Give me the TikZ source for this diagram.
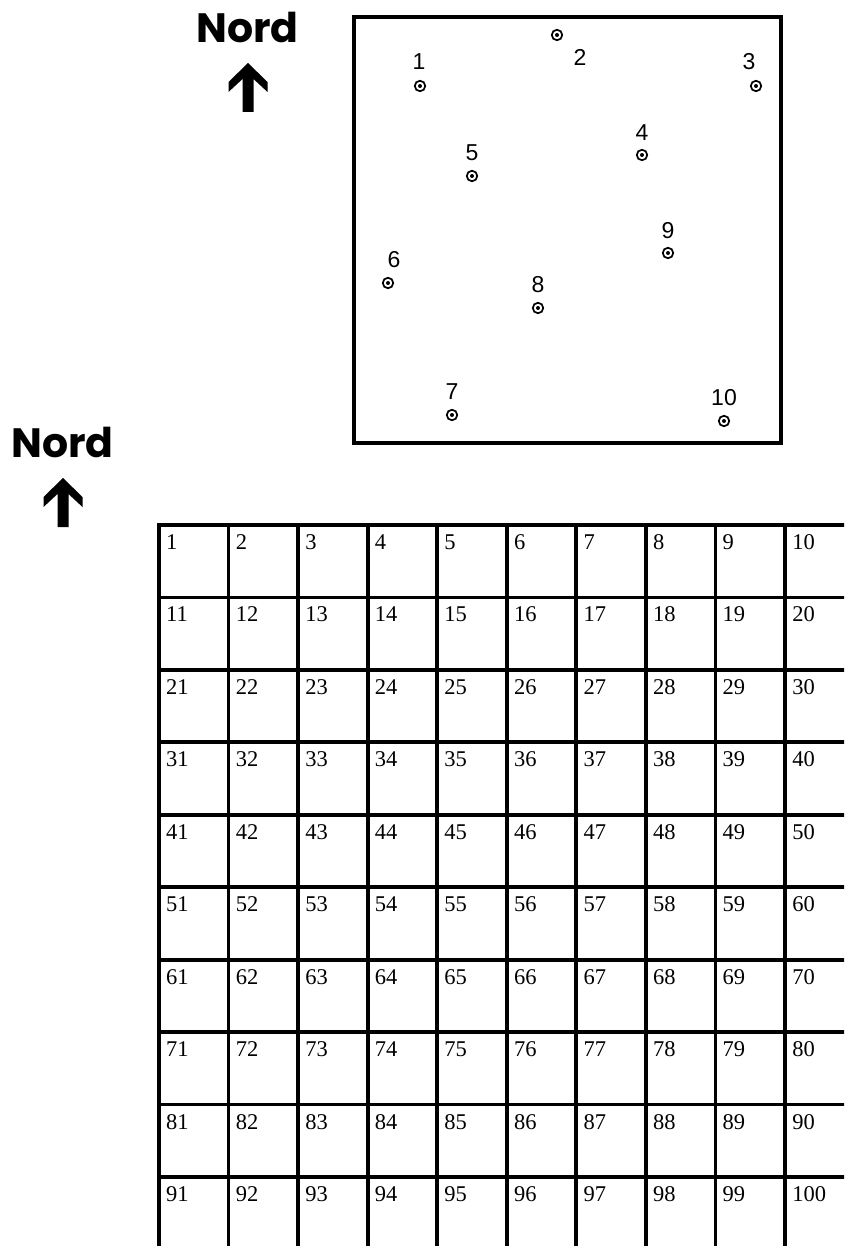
\documentclass[tikz,border=0pt]{standalone}
\usepackage{fontspec}
\setmainfont{Liberation Serif}
\newfontfamily\labfont{Liberation Sans}
\newfontfamily\nordfont{Poppins}
\begin{document}
\begin{tikzpicture}[x=1pt,y=-1pt,
  gridline/.style={line width=3.8pt},
  boxline/.style={line width=4pt},
  station/.style={circle,draw,line width=1.7pt,minimum size=10.5pt,inner sep=0pt},
  stlabel/.style={font=\labfont\fontsize{23}{23}\selectfont,inner sep=0pt,anchor=center},
  cellnum/.style={font=\fontsize{22.5}{22.5}\selectfont,inner sep=0pt,anchor=base west},
  nordtext/.style={font=\nordfont\bfseries\fontsize{41}{41}\selectfont,inner sep=0pt,anchor=base},
  northarrow/.pic={\fill (0,0) -- (19.5,19) -- (19.5,29) -- (5.5,16) -- (5.5,49) -- (-5.5,49) -- (-5.5,16) -- (-19.5,29) -- (-19.5,19) -- cycle;}
]
\useasboundingbox (0,0) rectangle (844,1246);
\clip (0,0) rectangle (844,1246);

% North labels
\node[nordtext] (nord1) at (247.5,43) {Nord};
\pic at (248,63) {northarrow};
\node[nordtext] (nord2) at (62.5,457) {Nord};
\pic at (63,478) {northarrow};

% Map box
\draw[boxline] (354.3,17) rectangle (780.5,442.5);

% Stations
\foreach \n/\px/\py/\lx/\ly in {1/420/86/419/62, 2/557/35/580/57, 3/756/86/749/62, 4/642/155/642/133, 5/472/176/472/153, 6/388/283/394/260, 7/452/415/452/392, 8/538/308/538/285, 9/668/253/668/231, 10/724/421/724/398}{
  \node[station] (p\n) at (\px,\py) {};
  \fill (p\n.center) circle (2pt);
  \node[stlabel] (l\n) at (\lx,\ly) {\n};
}

% Grid
\foreach \i in {0,...,9}{
  \draw[gridline] ({159+69.56*\i},523) -- ({159+69.56*\i},1250);
}
\foreach \j in {0,...,9}{
  \draw[gridline] (157.1,{525+72.44*\j}) -- (850,{525+72.44*\j});
}
\foreach \j in {0,...,9}{
  \foreach \i in {0,...,9}{
    \pgfmathtruncatemacro\n{10*\j+\i+1}
    \node[cellnum] (c\n) at ({159+69.56*\i+7},{525+72.44*\j+24.5}) {\n};
  }
}
\end{tikzpicture}
\end{document}
